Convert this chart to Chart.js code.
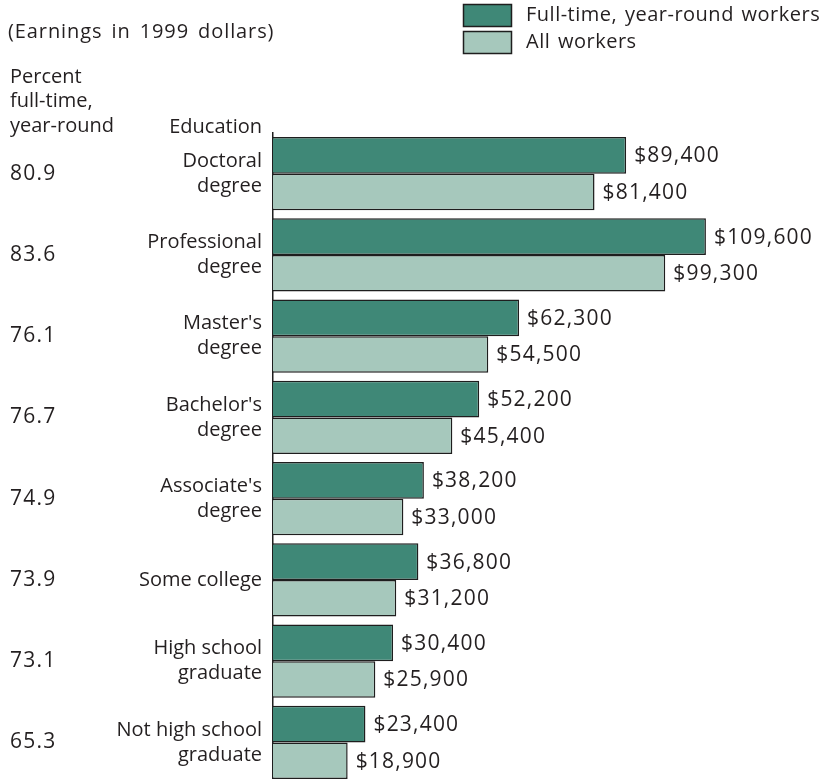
<!DOCTYPE html>
<html>
<head>
<meta charset="utf-8">
<script src="https://cdn.jsdelivr.net/npm/chart.js@4"></script>
<style>
  html, body { margin: 0; padding: 0; background: #ffffff; overflow: hidden; }
  #wrap { position: absolute; left: 0; top: 0; }
</style>
</head>
<body>
<div id="wrap"><canvas id="barras" width="833" height="820"></canvas></div>
<script>
// Datos
var categorias = [
    ["Doctoral", "degree"],
    ["Professional", "degree"],
    ["Master's", "degree"],
    ["Bachelor's", "degree"],
    ["Associate's", "degree"],
    "Some college",
    ["High school", "graduate"],
    ["Not high school", "graduate"]
];
var tiempoCompleto = [89400, 109600, 62300, 52200, 38200, 36800, 30400, 23400];
var todos = [81400, 99300, 54500, 45400, 33000, 31200, 25900, 18900];
var porcentaje = ["80.9", "83.6", "76.1", "76.7", "74.9", "73.9", "73.1", "65.3"];
var nombresSeries = ["Full-time, year-round workers", "All workers"];

var OSCURO = "#3f8877";
var CLARO = "#a6c8bc";
var TEXTO = "#231f20";
var FUENTE = "'Open Sans', sans-serif";

function dinero(v) {
    return "$" + v.toLocaleString("en-US");
}

// Textos de cabecera, columna de porcentaje, etiquetas de valor y leyenda
var textosExtra = {
    id: "textosExtra",
    afterDatasetsDraw: function (chart) {
        var ctx = chart.ctx;
        var y = chart.scales.y;
        ctx.save();
        ctx.fillStyle = TEXTO;
        ctx.font = "20px " + FUENTE;
        ctx.textBaseline = "middle";
        ctx.textAlign = "left";

        // titulo (espaciado algo más ancho como en el original)
        ctx.letterSpacing = "0.9px";
        ctx.wordSpacing = "3px";
        ctx.fillText("(Earnings in 1999 dollars)", 8, 32);
        ctx.letterSpacing = "0px";
        ctx.wordSpacing = "0px";

        ctx.fillText("Percent", 10, 77);
        ctx.fillText("full-time,", 10, 101);
        ctx.fillText("year-round", 10, 126);
        ctx.textAlign = "right";
        ctx.fillText("Education", 262, 127);

        // numeros
        ctx.textAlign = "left";
        ctx.font = "21px " + FUENTE;
        ctx.letterSpacing = "1.2px";
        porcentaje.forEach(function (p, i) {
            ctx.fillText(p, 10, y.getPixelForValue(i));
        });

        chart.data.datasets.forEach(function (ds, di) {
            chart.getDatasetMeta(di).data.forEach(function (bar, i) {
                ctx.fillText(dinero(ds.data[i]), bar.x + 8, bar.y + 1);
            });
        });

        // leyenda
        ctx.font = "20px " + FUENTE;
        ctx.letterSpacing = "0.5px";
        ctx.wordSpacing = "2px";
        var cajas = [[OSCURO, 4], [CLARO, 31]];
        cajas.forEach(function (c, i) {
            ctx.fillStyle = c[0];
            ctx.fillRect(463, c[1], 48, 22);
            ctx.strokeStyle = "#1e1e1e";
            ctx.lineWidth = 1.5;
            ctx.strokeRect(463.5, c[1] + 0.5, 48, 22);
            ctx.fillStyle = TEXTO;
            ctx.fillText(nombresSeries[i], 526, c[1] + 11);
        });
        ctx.restore();
    }
};

function cargaGrafico() {
    var datos = {
        labels: categorias,
        datasets: [{
            label: nombresSeries[0],
            data: tiempoCompleto,
            backgroundColor: OSCURO,
            borderColor: "#1e1e1e",
            borderWidth: 1.5
        }, {
            label: nombresSeries[1],
            data: todos,
            backgroundColor: CLARO,
            borderColor: "#1e1e1e",
            borderWidth: 1.5
        }]
    };

    var config = {
        type: "bar",
        data: datos,
        options: {
            indexAxis: "y",
            responsive: false,
            animation: false,
            devicePixelRatio: 1,
            categoryPercentage: 0.9,
            barPercentage: 1.0,
            layout: {
                padding: { top: 133, bottom: 37, left: 0, right: 86 }
            },
            plugins: {
                legend: { display: false },
                tooltip: { enabled: false }
            },
            scales: {
                x: {
                    display: false,
                    min: 0,
                    max: 120000
                },
                y: {
                    afterFit: function (scale) {
                        scale.width = 273;
                    },
                    grid: { display: false, drawTicks: false },
                    border: { display: true, color: "#1e1e1e", width: 1.5 },
                    ticks: {
                        color: TEXTO,
                        padding: 11,
                        font: { family: FUENTE, size: 20, lineHeight: 1.25 }
                    }
                }
            }
        },
        plugins: [textosExtra]
    };

    new Chart(document.getElementById("barras").getContext("2d"), config);
}

cargaGrafico();
</script>
</body>
</html>
